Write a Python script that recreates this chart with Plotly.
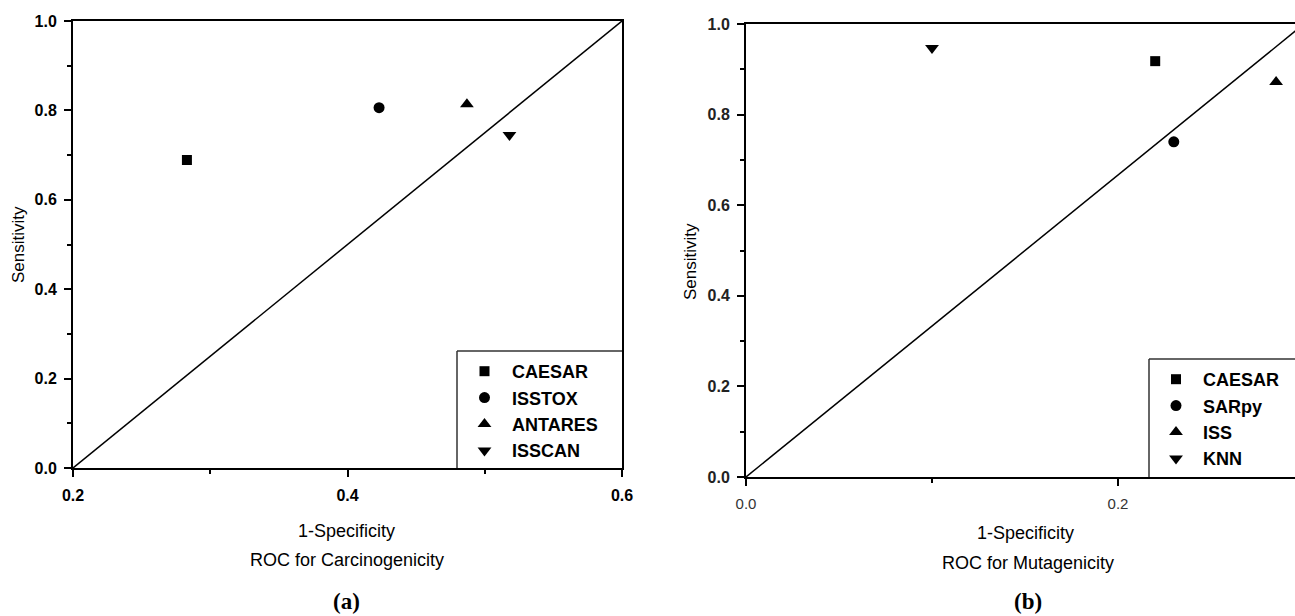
import plotly.graph_objects as go

# ---- data (a) ROC for Carcinogenicity ----
models_a = ["CAESAR", "ISSTOX", "ANTARES", "ISSCAN"]
fpr_a = [0.283, 0.423, 0.487, 0.518]
sens_a = [0.689, 0.806, 0.814, 0.745]

# ---- data (b) ROC for Mutagenicity ----
models_b = ["CAESAR", "SARpy", "ISS", "KNN"]
fpr_b = [0.220, 0.230, 0.285, 0.100]
sens_b = [0.918, 0.740, 0.872, 0.947]

symbols = ["square", "circle", "triangle-up", "triangle-down"]
marker_sizes = [10, 11, 12, 12]

# chance (diagonal) lines
chance_x_a = [0.2, 0.6]
chance_x_b = [0.0, 0.3]
chance_y = [0.0, 1.0]

# tick values
xticks_a = [0.2, 0.4, 0.6]
xticks_b = [0.0, 0.2]
yticks = [0.0, 0.2, 0.4, 0.6, 0.8, 1.0]

W, H = 1295, 616
FONT = "Liberation Sans, Arial, sans-serif"
SERIF = "Liberation Serif, Times New Roman, serif"

def px_x(p):
    return p / W

def px_y(p):
    return 1 - p / H

fig = go.Figure()

# diagonals
fig.add_trace(go.Scatter(x=chance_x_a, y=chance_y, mode="lines",
                         line=dict(color="black", width=1.5),
                         showlegend=False, hoverinfo="skip",
                         xaxis="x", yaxis="y"))
fig.add_trace(go.Scatter(x=chance_x_b, y=chance_y, mode="lines",
                         line=dict(color="black", width=1.5),
                         showlegend=False, hoverinfo="skip",
                         xaxis="x2", yaxis="y2"))

for i, name in enumerate(models_a):
    fig.add_trace(go.Scatter(x=[fpr_a[i]], y=[sens_a[i]], mode="markers", name=name,
                             marker=dict(symbol=symbols[i], size=marker_sizes[i], color="black"),
                             xaxis="x", yaxis="y", legend="legend"))
for i, name in enumerate(models_b):
    fig.add_trace(go.Scatter(x=[fpr_b[i]], y=[sens_b[i]], mode="markers", name=name,
                             marker=dict(symbol=symbols[i], size=marker_sizes[i], color="black"),
                             xaxis="x2", yaxis="y2", legend="legend2"))

axis_common = dict(showgrid=False, zeroline=False, showline=True, linecolor="black",
                   linewidth=2, ticks="outside", ticklen=7, tickwidth=2, tickcolor="black",
                   automargin=False)

minor_x_a = dict(dtick=0.1, tick0=0.2, ticks="outside", ticklen=4, tickwidth=2, tickcolor="black")
minor_common = dict(dtick=0.1, tick0=0, ticks="outside", ticklen=4, tickwidth=2, tickcolor="black")

fig.update_layout(
    width=W, height=H,
    margin=dict(l=0, r=0, t=0, b=0, pad=0),
    paper_bgcolor="white", plot_bgcolor="white",
    font=dict(family=FONT, color="black"),
    xaxis=dict(domain=[px_x(73), px_x(622)], range=[0.2, 0.6], anchor="y", mirror=True,
               tickvals=xticks_a, ticktext=[f"{v:.1f}" for v in xticks_a],
               minor=minor_x_a,
               tickfont=dict(size=16, family=FONT, weight="bold"), ticklabelstandoff=5,
               **axis_common),
    yaxis=dict(domain=[px_y(468), px_y(21)], range=[0, 1], anchor="x", mirror=True,
               tickvals=yticks, ticktext=[f"{v:.1f}" for v in yticks],
               minor=minor_common,
               tickfont=dict(size=16, family=FONT, weight="bold"), ticklabelstandoff=4,
               **axis_common),
    xaxis2=dict(domain=[px_x(746), 1.0], range=[0, (1295 - 746) / 1860], anchor="y2", mirror=True,
                tickvals=xticks_b, ticktext=[f"{v:.1f}" for v in xticks_b],
                minor=minor_common,
                tickfont=dict(size=15, family=FONT, color="#333"), ticklabelstandoff=5,
                **axis_common),
    yaxis2=dict(domain=[px_y(477), px_y(24)], range=[0, 1], anchor="x2", mirror=False,
                tickvals=yticks, ticktext=[f"{v:.1f}" for v in yticks],
                minor=minor_common,
                tickfont=dict(size=16, family=FONT, weight="bold", color="#222"), ticklabelstandoff=4,
                **axis_common),
    legend=dict(x=px_x(457), y=px_y(353), xanchor="left", yanchor="top",
                bgcolor="rgba(0,0,0,0)", borderwidth=0, itemwidth=45,
                font=dict(size=18, family=FONT, weight="bold"), tracegroupgap=0),
    legend2=dict(x=px_x(1149), y=px_y(361), xanchor="left", yanchor="top",
                 bgcolor="rgba(0,0,0,0)", borderwidth=0, itemwidth=44,
                 font=dict(size=18, family=FONT, weight="bold"), tracegroupgap=0),
)

# legend box outlines (left & top edges; others coincide with axes / clipped)
box_line = dict(color="#333", width=1.5)
fig.add_shape(type="line", xref="paper", yref="paper", x0=px_x(457), x1=px_x(457), y0=px_y(468), y1=px_y(351), line=box_line)
fig.add_shape(type="line", xref="paper", yref="paper", x0=px_x(457), x1=px_x(622), y0=px_y(351), y1=px_y(351), line=box_line)
fig.add_shape(type="line", xref="paper", yref="paper", x0=px_x(1149), x1=px_x(1149), y0=px_y(477), y1=px_y(359), line=box_line)
fig.add_shape(type="line", xref="paper", yref="paper", x0=px_x(1149), x1=1.0, y0=px_y(359), y1=px_y(359), line=box_line)

def ann(text, x, y, size=18, angle=0, family=FONT, weight="normal", yanchor="middle"):
    fig.add_annotation(text=text, x=px_x(x), y=px_y(y), xref="paper", yref="paper",
                       showarrow=False, textangle=angle, xanchor="center", yanchor=yanchor,
                       font=dict(size=size, family=family, color="black", weight=weight))

ann("Sensitivity", 18, 245, size=17, angle=-90)
ann("Sensitivity", 690, 262, size=17, angle=-90)
ann("1-Specificity", 347, 531, size=18)
ann("ROC for Carcinogenicity", 347, 560, size=18)
ann("(a)", 347, 616, size=23, family=SERIF, weight="bold", yanchor="bottom")
ann("1-Specificity", 1025, 533, size=18)
ann("ROC for Mutagenicity", 1028, 563, size=18)
ann("(b)", 1028, 616, size=23, family=SERIF, weight="bold", yanchor="bottom")

fig.write_html("out.html")
